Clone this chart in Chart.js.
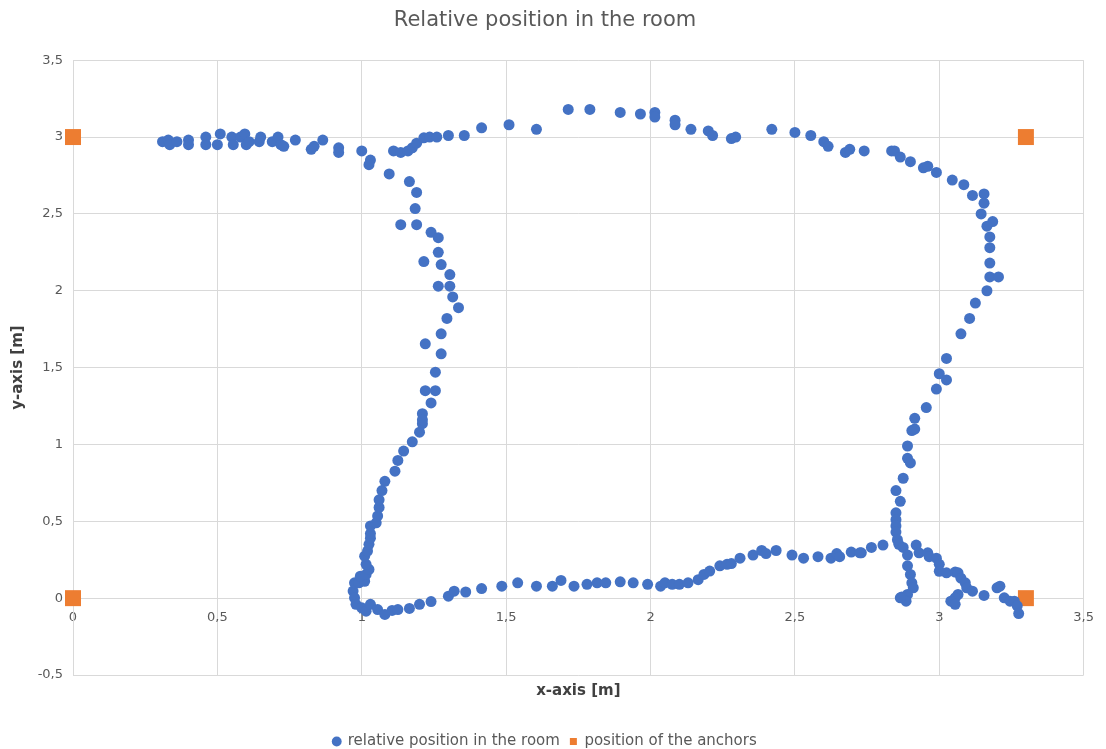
<!DOCTYPE html>
<html>
<head>
<meta charset="utf-8">
<title>Relative position in the room</title>
<script src="https://cdn.jsdelivr.net/npm/chart.js@4.4.0/dist/chart.umd.min.js"></script>
<style>
  html, body { margin: 0; padding: 0; background: #ffffff; }
  #wrap { width: 1106px; height: 749px; }
</style>
</head>
<body>
<div id="wrap"><canvas id="room"></canvas></div>
<script>
const positionX = [
  0.31, 0.33, 0.335, 0.36, 0.40, 0.40, 0.46, 0.46, 0.50, 0.51, 0.55, 0.555, 0.58, 0.595, 0.60, 0.61,
  0.645, 0.65, 0.69, 0.71, 0.72, 0.73, 0.77, 0.825, 0.835, 0.865, 0.92, 0.92, 1.00, 1.03, 1.025, 1.095,
  1.11, 1.135, 1.16, 1.175, 1.19, 1.215, 1.235, 1.26, 1.30, 1.355, 1.415, 1.51, 1.605, 1.715, 1.79, 1.895,
  1.965, 2.015, 2.015, 2.085, 2.085, 2.14, 2.20, 2.215, 2.28, 2.295, 2.42, 2.50, 2.555, 2.60, 2.615, 2.675,
  2.69, 2.74, 2.835, 2.845, 2.865, 2.90, 2.945, 2.96, 2.99, 3.045, 3.085, 3.115, 3.155, 3.155, 3.145, 3.185,
  3.165, 3.175, 3.175, 3.175, 3.175, 3.205, 3.165, 3.125, 3.105, 3.075, 3.025, 3.00, 3.025, 2.99, 2.955, 2.915,
  2.905, 2.915, 2.89, 2.89, 2.90, 2.875, 2.85, 2.865, 2.85, 2.85, 2.85, 2.85, 2.855, 2.86, 2.875, 2.73,
  2.765, 2.805, 2.89, 2.92, 2.93, 2.96, 2.965, 2.99, 3.00, 3.00, 3.025, 3.055, 3.065, 3.075, 3.09, 3.095,
  3.115, 3.065, 3.055, 3.04, 3.055, 3.155, 3.21, 3.20, 3.225, 3.245, 3.26, 3.27, 3.275, 2.89, 2.90, 2.905,
  2.91, 2.89, 2.87, 2.885, 2.865,
  0.97, 0.975, 0.98, 1.00, 1.015, 1.03, 1.055, 1.08, 1.105, 1.125, 1.165, 1.20, 1.24, 1.30, 1.32, 1.36,
  1.415, 1.485, 1.54, 1.605, 1.66, 1.69, 1.735, 1.78, 1.815, 1.845, 1.895, 1.94, 1.99, 2.035, 2.05, 2.075,
  2.10, 2.13, 2.165, 2.185, 2.205, 2.24, 2.265, 2.28, 2.31, 2.355, 2.385, 2.40, 2.435, 2.49, 2.53, 2.58,
  2.625, 2.645, 2.655, 2.695, 2.725,
  0.975, 0.99, 1.01, 0.995, 1.015, 1.025, 1.015, 1.01, 1.02, 1.025, 1.03, 1.03, 1.03, 1.05, 1.055, 1.06,
  1.06, 1.07, 1.08, 1.115, 1.125, 1.145, 1.175, 1.20, 1.21, 1.21, 1.24, 1.21, 1.22, 1.255, 1.255, 1.275,
  1.22, 1.275, 1.295, 1.335, 1.315, 1.265, 1.305, 1.305, 1.275, 1.215, 1.265, 1.24, 1.265, 1.135, 1.19, 1.185,
  1.19, 1.165
];
const positionY = [
  2.97, 2.98, 2.95, 2.97, 2.98, 2.95, 3.00, 2.95, 2.95, 3.02, 3.00, 2.95, 3.00, 3.02, 2.95, 2.97,
  2.97, 3.00, 2.97, 3.00, 2.95, 2.94, 2.98, 2.92, 2.94, 2.98, 2.93, 2.90, 2.91, 2.85, 2.82, 2.76,
  2.91, 2.90, 2.91, 2.93, 2.96, 2.995, 3.00, 3.00, 3.01, 3.01, 3.06, 3.08, 3.05, 3.18, 3.18, 3.16,
  3.15, 3.16, 3.13, 3.11, 3.08, 3.05, 3.04, 3.01, 2.99, 3.00, 3.05, 3.03, 3.01, 2.97, 2.94, 2.90,
  2.92, 2.91, 2.91, 2.91, 2.87, 2.84, 2.80, 2.81, 2.77, 2.72, 2.69, 2.62, 2.63, 2.57, 2.50, 2.45,
  2.42, 2.35, 2.28, 2.18, 2.09, 2.09, 2.00, 1.92, 1.82, 1.72, 1.56, 1.46, 1.42, 1.36, 1.24, 1.17,
  1.09, 1.10, 0.99, 0.91, 0.88, 0.78, 0.70, 0.63, 0.555, 0.51, 0.47, 0.43, 0.38, 0.35, 0.33, 0.295,
  0.33, 0.345, 0.28, 0.345, 0.295, 0.295, 0.27, 0.26, 0.22, 0.175, 0.165, 0.17, 0.165, 0.13, 0.10, 0.067,
  0.045, 0.024, 0.002, -0.02, -0.04, 0.018, 0.078, 0.067, 0.002, -0.02, -0.02, -0.05, -0.10, 0.21, 0.154, 0.10,
  0.067, 0.024, 0.007, -0.02, 0.002,
  0.046, 0.002, -0.04, -0.063, -0.085, -0.04, -0.074, -0.106, -0.08, -0.074, -0.067, -0.04, -0.022, 0.013, 0.045, 0.04,
  0.062, 0.078, 0.10, 0.078, 0.078, 0.115, 0.078, 0.09, 0.10, 0.10, 0.106, 0.10, 0.09, 0.078, 0.10, 0.09,
  0.09, 0.10, 0.12, 0.154, 0.176, 0.21, 0.22, 0.225, 0.26, 0.28, 0.31, 0.29, 0.31, 0.28, 0.26, 0.27,
  0.26, 0.29, 0.27, 0.30, 0.295,
  0.10, 0.10, 0.11, 0.143, 0.154, 0.187, 0.22, 0.273, 0.306, 0.35, 0.39, 0.42, 0.47, 0.49, 0.535, 0.59,
  0.64, 0.70, 0.76, 0.826, 0.896, 0.957, 1.017, 1.08, 1.135, 1.20, 1.27, 1.16, 1.35, 1.35, 1.47, 1.59,
  1.655, 1.72, 1.82, 1.89, 1.96, 2.03, 2.03, 2.105, 2.17, 2.19, 2.25, 2.38, 2.345, 2.43, 2.43, 2.535,
  2.64, 2.71
];

const anchorX = [0, 0, 3.3, 3.3];
const anchorY = [0, 3, 3, 0];

const xTickValues = [0, 0.5, 1, 1.5, 2, 2.5, 3, 3.5];
const xTickLabels = ["0", "0,5", "1", "1,5", "2", "2,5", "3", "3,5"];
const yTickValues = [-0.5, 0, 0.5, 1, 1.5, 2, 2.5, 3, 3.5];
const yTickLabels = ["-0,5", "0", "0,5", "1", "1,5", "2", "2,5", "3", "3,5"];

const font = "'DejaVu Sans', 'Liberation Sans', sans-serif";
const gridColor = "#d9d9d9";
const textColor = "#595959";

function toPoints(xs, ys) {
  let pts = [];
  for (let i = 0; i < xs.length; i++) {
    pts.push({ x: xs[i], y: ys[i] });
  }
  return pts;
}

let ctx = document.getElementById("room").getContext("2d");
window.roomChart = new Chart(ctx, {
  type: "scatter",
  data: {
    datasets: [
      {
        label: "relative position in the room",
        data: toPoints(positionX, positionY),
        backgroundColor: "#4472c4",
        borderColor: "#4472c4",
        borderWidth: 0,
        pointRadius: 5.5,
        pointStyle: "circle",
        clip: false
      },
      {
        label: "position of the anchors",
        data: toPoints(anchorX, anchorY),
        backgroundColor: "#ed7d31",
        borderColor: "#ed7d31",
        borderWidth: 0,
        pointRadius: 11.3,
        pointStyle: "rect",
        clip: false
      }
    ]
  },
  options: {
    responsive: true,
    maintainAspectRatio: false,
    animation: false,
    layout: { padding: { left: 4, right: 20, top: 0, bottom: -10 } },
    plugins: {
      title: {
        display: true,
        text: "Relative position in the room",
        color: textColor,
        font: { family: font, size: 21, weight: "normal" },
        padding: { top: 8, bottom: 27 }
      },
      legend: {
        position: "bottom",
        labels: {
          usePointStyle: true,
          boxWidth: 7,
          boxHeight: 7,
          padding: 10,
          color: textColor,
          font: { family: font, size: 15 }
        }
      },
      tooltip: { enabled: false }
    },
    scales: {
      x: {
        type: "linear",
        position: { y: 0 },
        min: 0,
        max: 3.5,
        afterBuildTicks: function (scale) {
          scale.ticks = xTickValues.map(v => ({ value: v }));
        },
        ticks: {
          color: textColor,
          padding: 12,
          font: { family: font, size: 13 },
          callback: function (value, index) { return xTickLabels[index]; }
        },
        grid: { color: gridColor, drawTicks: false },
        border: { color: gridColor }
      },
      x2: {
        type: "linear",
        position: "bottom",
        min: 0,
        max: 3.5,
        ticks: { display: false },
        grid: { display: false, drawTicks: false },
        border: { display: false },
        title: {
          display: true,
          text: "x-axis [m]",
          color: "#404040",
          font: { family: font, size: 15, weight: "bold" },
          padding: { top: 0, bottom: 24 }
        },
        afterFit: function (scale) { scale.height = 49; }
      },
      y: {
        type: "linear",
        min: -0.5,
        max: 3.5,
        afterBuildTicks: function (scale) {
          scale.ticks = yTickValues.map(v => ({ value: v }));
        },
        ticks: {
          color: textColor,
          padding: 10,
          font: { family: font, size: 13 },
          callback: function (value, index) { return yTickLabels[index]; }
        },
        grid: { color: gridColor, drawTicks: false },
        border: { color: gridColor },
        title: {
          display: true,
          text: "y-axis [m]",
          color: "#404040",
          font: { family: font, size: 15, weight: "bold" },
          padding: { top: 5, bottom: 0 }
        },
        afterFit: function (scale) { scale.width = 69; }
      }
    }
  }
});
</script>
</body>
</html>
